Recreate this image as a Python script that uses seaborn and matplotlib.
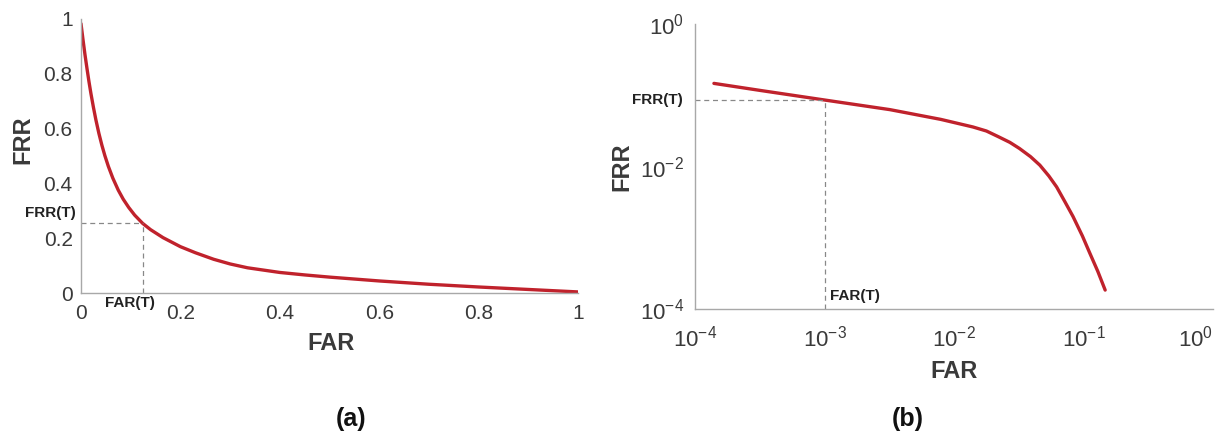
import numpy as np
import pandas as pd
import seaborn as sns
import matplotlib as mpl
from matplotlib import pyplot as plt
from matplotlib import ticker

# data
# (a) linear axes
far_a = [0, 0.004, 0.008, 0.012, 0.016, 0.020, 0.025, 0.030, 0.036, 0.042, 0.048,
         0.055, 0.064, 0.075, 0.085, 0.096, 0.108, 0.124, 0.14, 0.165, 0.2, 0.23,
         0.267, 0.30, 0.335, 0.4, 0.45, 0.5, 0.6, 0.7, 0.8, 0.9, 1.0]
frr_a = [0.983, 0.925, 0.870, 0.820, 0.772, 0.728, 0.678, 0.632, 0.583, 0.540, 0.502,
         0.463, 0.420, 0.376, 0.343, 0.313, 0.285, 0.255, 0.232, 0.203, 0.170, 0.148,
         0.124, 0.107, 0.093, 0.076, 0.067, 0.059, 0.045, 0.033, 0.023, 0.014, 0.005]
far_t_a, frr_t_a = 0.124, 0.255

# (b) log-log axes
far_b = [1.4e-4, 3.2e-4, 1.0e-3, 3.2e-3, 7.9e-3, 1.4e-2, 1.78e-2, 2.2e-2, 2.7e-2,
         3.2e-2, 3.9e-2, 4.6e-2, 5.4e-2, 6.2e-2, 7.2e-2, 8.3e-2, 9.8e-2, 0.112,
         0.129, 0.147]
frr_b = [0.147, 0.117, 0.086, 0.063, 0.046, 0.036, 0.0316, 0.0263, 0.0219,
         0.018, 0.0138, 0.0105, 0.0074, 0.0052, 0.0032, 0.0020, 0.00107, 6.1e-4,
         3.4e-4, 1.86e-4]
far_t_b, frr_t_b = 1.0e-3, 0.086

lin_ticks = [0, 0.2, 0.4, 0.6, 0.8, 1]
lin_labels = ['0', '0.2', '0.4', '0.6', '0.8', '1']
log_xticks = [1e-4, 1e-3, 1e-2, 1e-1, 1e0]
log_xlabels = [r'$10^{-4}$', r'$10^{-3}$', r'$10^{-2}$', r'$10^{-1}$', r'$10^{0}$']
log_yticks = [1e-4, 1e-2, 1e0]
log_ylabels = [r'$10^{-4}$', r'$10^{-2}$', r'$10^{0}$']

df_a = pd.DataFrame({'FAR': far_a, 'FRR': frr_a})
df_b = pd.DataFrame({'FAR': far_b, 'FRR': frr_b})

sns.set_theme(style='white')
plt.rcParams['font.family'] = ['Liberation Sans', 'DejaVu Sans']
plt.rcParams['mathtext.default'] = 'regular'
plt.rcParams['axes.unicode_minus'] = False

W, H = 1220, 432
fig = plt.figure(figsize=(W / 100, H / 100), dpi=100)

def px(x0, y0, x1, y1):
    # axes box from pixel corners (left, top, right, bottom)
    return [x0 / W, 1 - y1 / H, (x1 - x0) / W, (y1 - y0) / H]

ax1 = fig.add_axes(px(81, 19, 578, 293.3))
ax2 = fig.add_axes(px(695, 24, 1213, 309.3))

red = '#c0222c'
spine_c = '#a8a8a8'
txt_c = '#3a3a3a'
narrow = ['Liberation Sans Narrow', 'Liberation Sans', 'DejaVu Sans']

for ax in (ax1, ax2):
    for s in ['top', 'right']:
        ax.spines[s].set_visible(False)
    for s in ['left', 'bottom']:
        ax.spines[s].set_color(spine_c)
        ax.spines[s].set_linewidth(1.0)
    ax.tick_params(which='both', direction='in', colors=spine_c, labelcolor=txt_c,
                   labelsize=15, length=4, width=0.8)

# panel (a)
sns.lineplot(data=df_a, x='FAR', y='FRR', ax=ax1, color=red, lw=2.4)
ax1.plot([0, far_t_a], [frr_t_a, frr_t_a], ls=(0, (4, 3)), color='#888888', lw=0.9)
ax1.plot([far_t_a, far_t_a], [0, frr_t_a], ls=(0, (4, 3)), color='#888888', lw=0.9)
ax1.set_xlim(0, 1)
ax1.set_ylim(0, 1)
ax1.set_xticks(lin_ticks)
ax1.set_xticklabels(lin_labels)
ax1.set_yticks(lin_ticks)
ax1.set_yticklabels(lin_labels)
ax1.tick_params(axis='x', pad=8)
ax1.tick_params(axis='y', pad=6)
ax1.set_xlabel('FAR', fontsize=17, fontweight='bold', color=txt_c)
ax1.set_ylabel('FRR', fontsize=17, fontweight='bold', color=txt_c)
ax1.xaxis.set_label_coords((331 - 81) / 497, (293.3 - 344) / 274.3)
ax1.xaxis.label.set_va('center')
ax1.yaxis.set_label_coords((23 - 81) / 497, (293.3 - 140) / 274.3)
ax1.yaxis.label.set_va('center')

# panel (b)
sns.lineplot(data=df_b, x='FAR', y='FRR', ax=ax2, color=red, lw=2.4)
ax2.set_xscale('log')
ax2.set_yscale('log')
ax2.plot([1e-4, far_t_b], [frr_t_b, frr_t_b], ls=(0, (4, 3)), color='#888888', lw=0.9)
ax2.plot([far_t_b, far_t_b], [1e-4, frr_t_b], ls=(0, (4, 3)), color='#888888', lw=0.9)
ax2.set_xlim(1e-4, 1)
ax2.set_ylim(1e-4, 1)
ax2.set_xticks(log_xticks)
ax2.set_xticklabels(log_xlabels)
ax2.set_yticks(log_yticks)
ax2.set_yticklabels(log_ylabels)
ax2.xaxis.set_minor_locator(ticker.LogLocator(base=10, subs=np.arange(2, 10), numticks=20))
ax2.xaxis.set_minor_formatter(ticker.NullFormatter())
ax2.yaxis.set_minor_locator(ticker.NullLocator())
ax2.tick_params(which='minor', length=2.5)
ax2.tick_params(axis='x', which='major', pad=12, labelsize=16)
ax2.tick_params(axis='y', which='major', pad=8, labelsize=16)
# last x label sits inside the figure edge, as in the original
ax2.get_xticklabels()[-1].set_ha('right')
ax2.set_xlabel('FAR', fontsize=17, fontweight='bold', color=txt_c)
ax2.set_ylabel('FRR', fontsize=17, fontweight='bold', color=txt_c)
ax2.xaxis.set_label_coords(0.5, (309.3 - 371) / 285.3)
ax2.xaxis.label.set_va('center')
ax2.yaxis.set_label_coords((622 - 695) / 518, (309.3 - 167) / 285.3)
ax2.yaxis.label.set_va('center')

# threshold annotations
def ftext(x, y, s, **kw):
    fig.text(x / W, 1 - y / H, s, **kw)

ftext(50, 213, 'FRR(T)', ha='center', va='center', fontsize=11, fontweight='bold',
      color='#222222', family=narrow)
ftext(130, 303, 'FAR(T)', ha='center', va='center', fontsize=11, fontweight='bold',
      color='#222222', family=narrow)
ftext(657, 100, 'FRR(T)', ha='center', va='center', fontsize=11, fontweight='bold',
      color='#222222', family=narrow)
ftext(830, 296, 'FAR(T)', ha='left', va='center', fontsize=11, fontweight='bold',
      color='#222222', family=narrow)

# panel letters
ftext(351, 419, '(a)', ha='center', va='center', fontsize=18, fontweight='bold', color='#111111')
ftext(908, 419, '(b)', ha='center', va='center', fontsize=18, fontweight='bold', color='#111111')

fig.savefig('out.png', dpi=100)
